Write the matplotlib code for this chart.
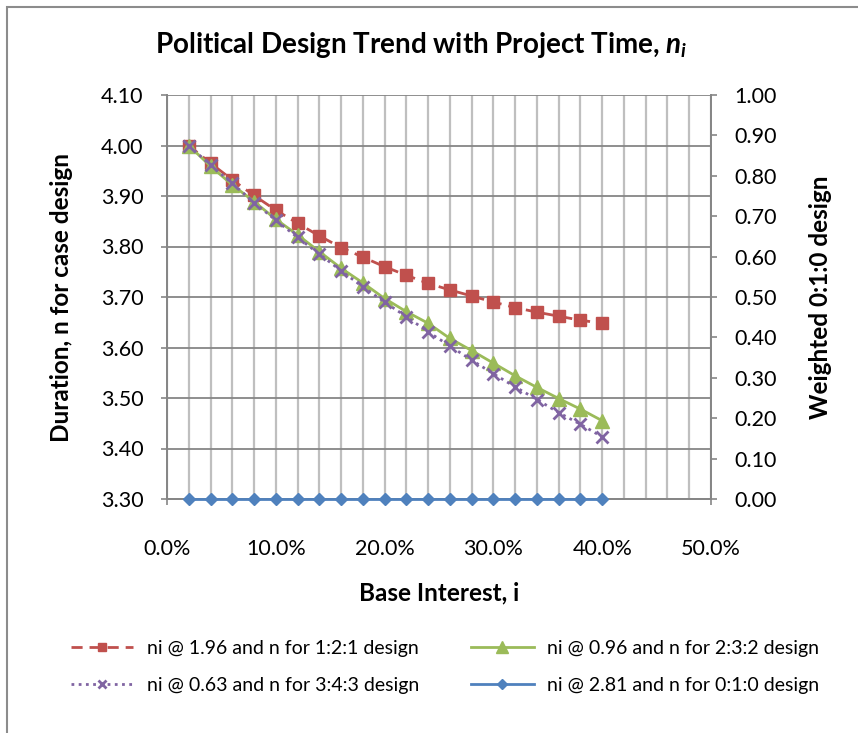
import matplotlib
matplotlib.use("Agg")
import matplotlib.pyplot as plt
from matplotlib.patches import Rectangle
from matplotlib.ticker import FuncFormatter, MultipleLocator

plt.rcParams['font.family'] = ['Lato', 'DejaVu Sans']
plt.rcParams['mathtext.fontset'] = 'custom'
plt.rcParams['mathtext.it'] = 'Lato:italic:bold'
plt.rcParams['mathtext.rm'] = 'Lato:bold'

# ---- data ----
interest = [0.02, 0.04, 0.06, 0.08, 0.10, 0.12, 0.14, 0.16, 0.18, 0.20,
            0.22, 0.24, 0.26, 0.28, 0.30, 0.32, 0.34, 0.36, 0.38, 0.40]
n_121 = [4.000, 3.965, 3.932, 3.901, 3.872, 3.846, 3.821, 3.798, 3.779, 3.760,
         3.743, 3.727, 3.714, 3.702, 3.690, 3.679, 3.670, 3.662, 3.654, 3.648]
n_232 = [4.000, 3.959, 3.922, 3.889, 3.854, 3.823, 3.790, 3.757, 3.728, 3.697,
         3.671, 3.648, 3.618, 3.594, 3.569, 3.544, 3.521, 3.499, 3.478, 3.455]
n_343 = [4.000, 3.961, 3.925, 3.887, 3.852, 3.818, 3.785, 3.752, 3.720, 3.690,
         3.661, 3.631, 3.603, 3.575, 3.548, 3.522, 3.497, 3.471, 3.448, 3.423]
n_010 = [0.0] * 20

labels = ["ni @ 1.96 and n for 1:2:1 design",
          "ni @ 0.96 and n for 2:3:2 design",
          "ni @ 0.63 and n for 3:4:3 design",
          "ni @ 2.81 and n for 0:1:0 design"]

W, H = 858, 733
fig = plt.figure(figsize=(W / 100, H / 100), dpi=100)

L, R, T, B = 167, 711, 95, 499
ax = fig.add_axes([L / W, 1 - B / H, (R - L) / W, (B - T) / H])
ax2 = ax.twinx()

grid_dark = '#868686'
grid_light = '#bfbfbf'

ax.set_xlim(0, 0.5)
ax.set_ylim(3.30, 4.10)
ax2.set_ylim(0, 1.0)

ax.xaxis.set_major_locator(MultipleLocator(0.1))
ax.xaxis.set_minor_locator(MultipleLocator(0.02))
ax.yaxis.set_major_locator(MultipleLocator(0.1))
ax2.yaxis.set_major_locator(MultipleLocator(0.1))

ax.xaxis.set_major_formatter(FuncFormatter(lambda v, p: f"{v*100:.1f}%"))
ax.yaxis.set_major_formatter(FuncFormatter(lambda v, p: f"{v:.2f}"))
ax2.yaxis.set_major_formatter(FuncFormatter(lambda v, p: f"{v:.2f}"))

ax.grid(True, which='both', axis='x', color=grid_light, lw=1.6)
ax.grid(True, which='major', axis='y', color=grid_dark, lw=1.3)
ax.set_axisbelow(True)

for a in (ax, ax2):
    for s in a.spines.values():
        s.set_color(grid_dark)
        s.set_linewidth(1.3)
ax.spines['top'].set_visible(False)
ax2.spines['top'].set_visible(False)

ax.tick_params(axis='y', which='major', length=4, width=1.2, color=grid_dark,
               labelsize=15.5, pad=13)
ax.tick_params(axis='x', which='major', length=4, width=1.2, color=grid_dark,
               labelsize=15.5, pad=25)
ax.tick_params(axis='x', which='minor', length=0)
ax2.tick_params(axis='y', length=4, width=1.2, color=grid_dark, labelsize=15.5, pad=13)

l1, = ax.plot(interest, n_121, color='#C0504D', lw=2, ls=(0, (4, 2.5)),
              marker='s', ms=8, mec='#C0504D', label=labels[0], zorder=3)
l2, = ax.plot(interest, n_232, color='#9BBB59', lw=2, ls='-',
              marker='^', ms=10, label=labels[1], zorder=4)
l3, = ax.plot(interest, n_343, color='#8064A2', lw=2, ls=(0, (1, 1.6)),
              marker='x', ms=8, mew=2, label=labels[2], zorder=5)
l4, = ax2.plot(interest, n_010, color='#4F81BD', lw=2, ls='-',
               marker='D', ms=6, label=labels[3], zorder=3, clip_on=False)

ax.set_xlabel("Base Interest, i", fontsize=17.5, fontweight='bold')
ax.set_ylabel("Duration, n for case design", fontsize=17.5, fontweight='bold')
ax2.set_ylabel("Weighted 0:1:0 design", fontsize=17.5, fontweight='bold')
ax.xaxis.label.set_va('center')
ax.yaxis.label.set_va('center')
ax2.yaxis.label.set_va('center')
pw, ph = R - L, B - T
ax.xaxis.set_label_coords((439 - L) / pw, (B - 593) / ph)
ax.yaxis.set_label_coords((62 - L) / pw, 0.5)
ax2.yaxis.set_label_coords((820 - L) / pw, 0.5)

fig.text(421 / W, 1 - 45 / H, "Political Design Trend with Project Time, $n_i$",
         ha='center', va='center', fontsize=20, fontweight='bold')

leg = fig.legend(handles=[l1, l3, l2, l4], labels=[labels[0], labels[2], labels[1], labels[3]],
                 ncol=2, loc='center', bbox_to_anchor=(445 / W, 1 - 667 / H),
                 frameon=False, fontsize=14, handlelength=3.2, handletextpad=0.7,
                 columnspacing=2.7, labelspacing=1.0, markerscale=0.8)

fig.patches.append(Rectangle((7 / W, -0.1), 1.2, 1 - 7 / H + 0.1,
                             transform=fig.transFigure, fill=False,
                             edgecolor='#8c8c8c', lw=1.5))

fig.savefig("out.png", dpi=100)
